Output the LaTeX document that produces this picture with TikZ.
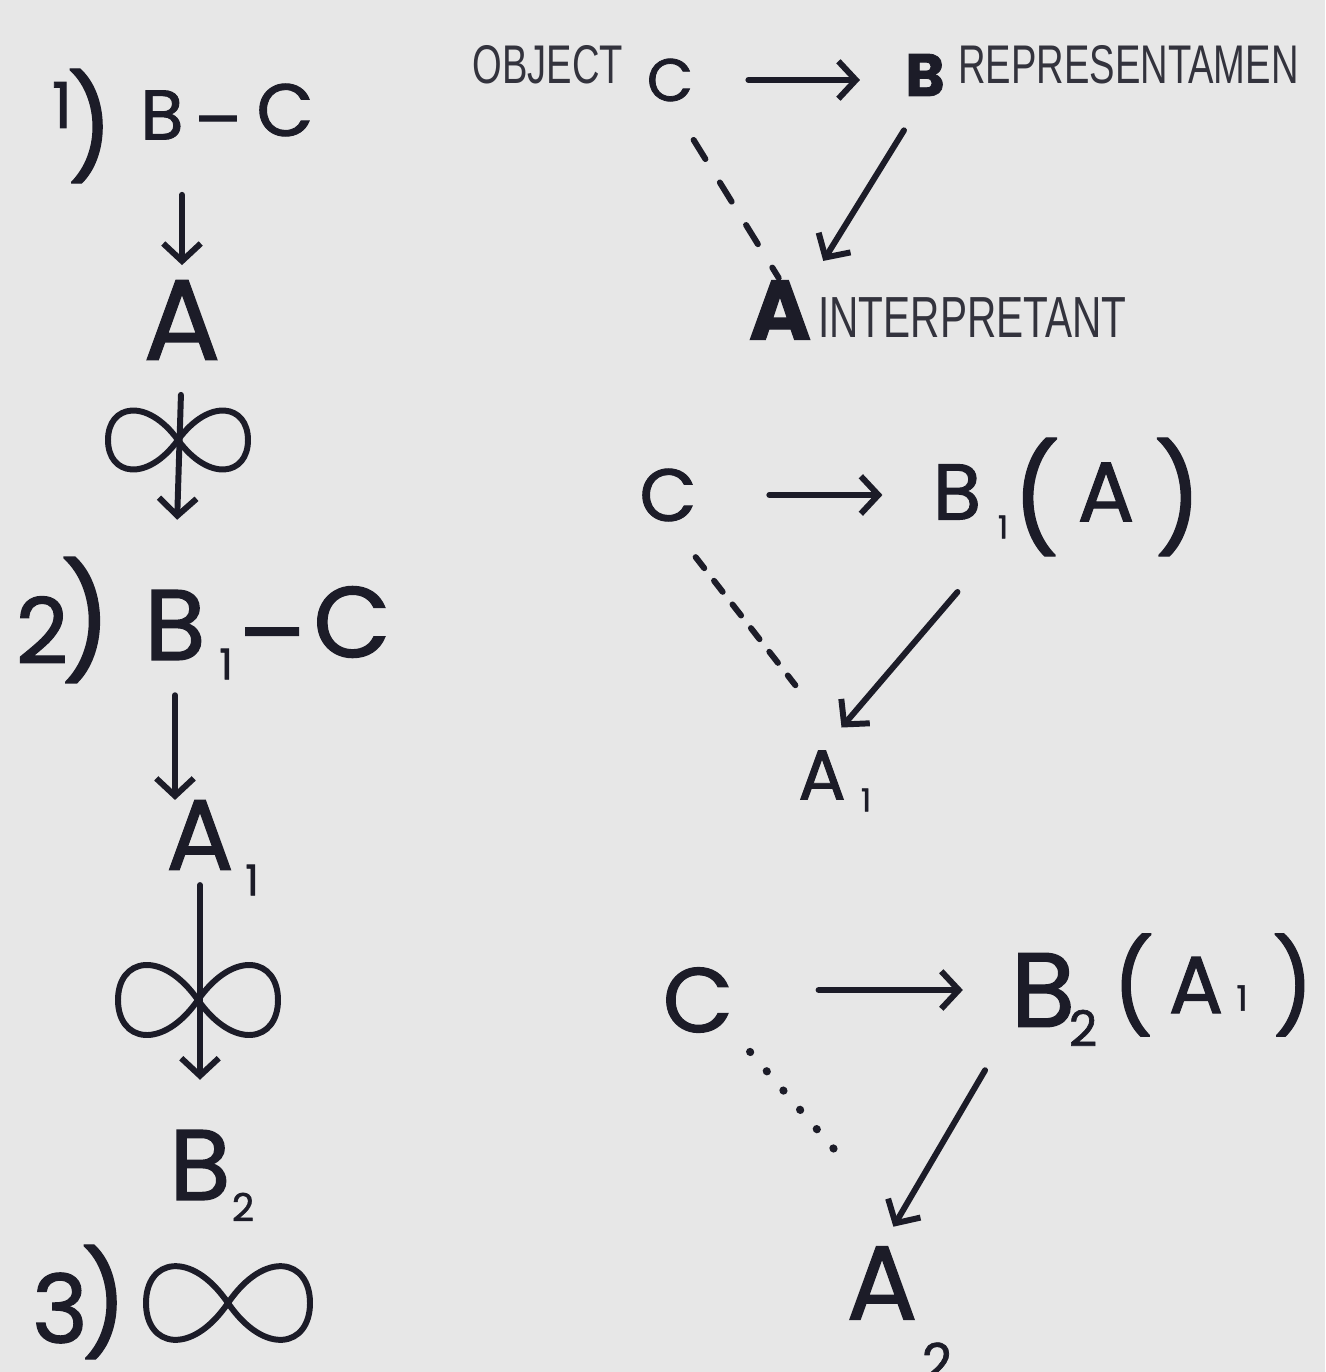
\documentclass[tikz,border=0pt]{standalone}
\usepackage{fontspec}
\setmainfont{Poppins}
\newfontfamily\handfont{Poppins}[FakeBold=1.3]
\newfontfamily\labelfont[FakeStretch=0.7]{Liberation Sans}
\usetikzlibrary{arrows.meta,calc}
\definecolor{paper}{HTML}{E7E7E7}
\definecolor{ink}{HTML}{1C1C28}
\tikzset{
  hw/.style={text=ink, inner sep=0pt, font=\handfont\fontsize{#1}{#1}\selectfont},
  lab/.style={text=ink!90, inner sep=0pt, font=\labelfont\fontsize{#1}{#1}\selectfont},
  pen/.style={draw=ink, line width=3.4pt, line cap=round, line join=round},
  harr/.style={pen, -{Straight Barb[length=0.35cm,width=0.75cm]}},
  dashA/.style={pen, dash pattern=on 0.45cm off 0.55cm},
  dashB/.style={pen, dash pattern=on 0.28cm off 0.32cm},
  dotC/.style={pen, line width=4.5pt, dash pattern=on 0.01cm off 0.5cm},
}
\newcommand\infsym[4]{%
  \draw[pen] (#1,#2) .. controls (#1+0.45*#3,#2-1.35*#4) and (#1+#3,#2-1.1*#4) .. (#1+#3,#2)
    .. controls (#1+#3,#2+1.1*#4) and (#1+0.45*#3,#2+1.35*#4) .. (#1,#2)
    .. controls (#1-0.45*#3,#2-1.35*#4) and (#1-#3,#2-1.1*#4) .. (#1-#3,#2)
    .. controls (#1-#3,#2+1.1*#4) and (#1-0.45*#3,#2+1.35*#4) .. (#1,#2);}
\begin{document}
\begin{tikzpicture}[x=0.02cm,y=-0.02cm]
\useasboundingbox (0,0) rectangle (1325,1372);
\fill[paper] (0,0) rectangle (1325,1372);

% ---------- left column ----------
\node[hw=36] (n1) at (62,105) {1};
\node[hw=58] (p1) at (90,126) {)};
\node[hw=40] (L1B) at (162,115) {B};
\node[hw=40] (L1d) at (218,130) {–};
\node[hw=42] (L1C) at (285,110) {C};
\node[hw=65] (L1A) at (182,320) {A};
\draw[harr, shorten <=1.1cm, shorten >=0.3cm] (L1B.south -| L1A.north) -- (L1A.north);
\infsym{178}{440}{70}{32}

\node[hw=52] (n2) at (42,630) {2};
\node[hw=64] (p2) at (86,620) {)};
\node[hw=57] (L2B) at (175,625) {B};
\node[hw=24] (L2s) at (226,664) {1};
\node[hw=57] (L2d) at (272,648) {–};
\node[hw=57] (L2C) at (352,622) {C};
\draw[harr, shorten <=0.7cm, shorten >=1.4cm] (L1A.south) -- (L2B.north);

\node[hw=57] (L3A) at (200,835) {A};
\node[hw=24] (L3s) at (252,880) {1};
\draw[harr, shorten <=0.7cm] (L2B.south) -- (L2B.south |- L3A.north);
\infsym{198}{1000}{80}{38}

\node[hw=57] (L4B) at (200,1165) {B};
\node[hw=22] (L4s) at (243,1207) {2};
\draw[harr, shorten <=0.3cm, shorten >=1cm] (L3A.south) -- (L4B.north);

\node[hw=54] (n3) at (60,1308) {3};
\node[hw=58] (p3) at (104,1302) {)};
\infsym{228}{1303}{82}{40}

% ---------- triangle 1 ----------
\node[lab=31] (obj) at (548,65) {OBJECT};
\node[hw=34] (T1C) at (670,80) {C};
\node[hw=34] (T1B) at (925,75) {\bfseries B};
\node[lab=31, anchor=west] (rep) at (958,65) {REPRESENTAMEN};
\node[hw=48] (T1A) at (780,310) {\bfseries A};
\node[lab=33, anchor=west] (int) at (818,318) {INTERPRETANT};
\draw[harr, shorten <=1.1cm, shorten >=0.9cm] (T1C.east) -- (T1C.east -| T1B.west);
\draw[dashA, shorten <=0.9cm, shorten >=0.05cm] (T1C.south) -- (T1A.north);
\draw[harr, shorten <=0.8cm, shorten >=0.45cm] (T1B.south) -- (T1A.north east);

% ---------- triangle 2 ----------
\node[hw=42] (T2C) at (668,495) {C};
\node[hw=45] (T2B) at (957,492) {B};
\node[hw=18] (T2s) at (1003,527) {1};
\node[hw=60] (T2l) at (1036,497) {(};
\node[hw=48] (T2A) at (1106,492) {A};
\node[hw=60] (T2r) at (1178,497) {)};
\node[hw=40] (T2A1) at (822,775) {A};
\node[hw=18] (T2A1s) at (866,800) {1};
\draw[harr, shorten <=1.45cm, shorten >=1cm] (T2C.east) -- (T2C.east -| T2B.west);
\draw[dashB, shorten <=0.9cm, shorten >=1.65cm] (T2C.south) -- (T2A1.north east);
\draw[harr, shorten <=1.4cm, shorten >=0.6cm] (T2s.south) -- (T2A1.north);

% ---------- triangle 3 ----------
\node[hw=52] (T3C) at (698,1000) {C};
\node[hw=60] (T3B) at (1043,990) {B};
\node[hw=28] (T3s) at (1083,1028) {2};
\node[hw=52] (T3l) at (1133,985) {(};
\node[hw=46] (T3A) at (1196,985) {A};
\node[hw=20] (T3As) at (1242,998) {1};
\node[hw=52] (T3r) at (1293,985) {)};
\node[hw=60] (T3A2) at (882,1283) {A};
\node[hw=30] (T3A2s) at (937,1362) {2};
\draw[harr, shorten <=1.7cm, shorten >=0.95cm] (T3B.west -| T3C.east) -- (T3B.west);
\draw[dotC, shorten <=0.5cm, shorten >=2.3cm] (T3C.south east) -- (T3A2.north east);
\draw[harr, shorten <=1cm, shorten >=0.45cm] (T3B.south west) -- (T3A2.north);
\end{tikzpicture}
\end{document}
